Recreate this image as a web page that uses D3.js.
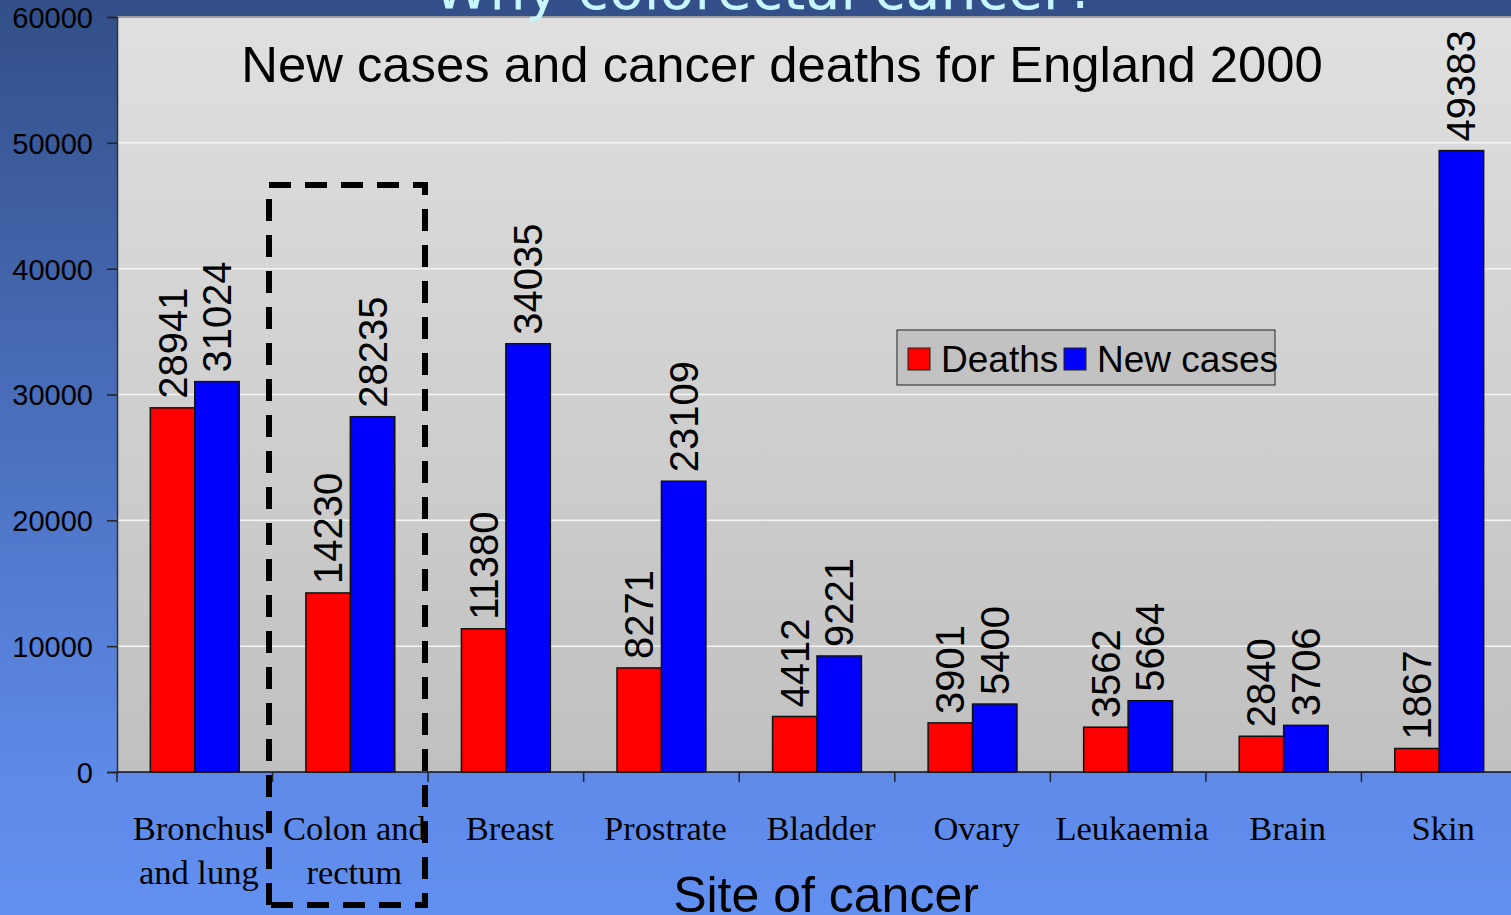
<!DOCTYPE html>
<html>
<head>
<meta charset="utf-8">
<script src="https://cdn.jsdelivr.net/npm/d3@7"></script>
<style>
  html, body { margin: 0; padding: 0; overflow: hidden; }
  svg { display: block; }
</style>
</head>
<body>
<div id="chart"></div>
<script>
// data
var sites = [["Bronchus", "and lung"], ["Colon and", "rectum"], ["Breast"], ["Prostrate"], ["Bladder"], ["Ovary"], ["Leukaemia"], ["Brain"], ["Skin"]];
var deaths = [28941, 14230, 11380, 8271, 4412, 3901, 3562, 2840, 1867];
var newCases = [31024, 28235, 34035, 23109, 9221, 5400, 5664, 3706, 49383];
var yTicks = [0, 10000, 20000, 30000, 40000, 50000, 60000];
var seriesNames = ["Deaths", "New cases"];
var seriesColors = ["#ff0000", "#0000ff"];

var width = 1511;
var height = 915;
var plot = { left: 117, top: 17, right: 1517, bottom: 772 };

var svg = d3.select("#chart").append("svg")
  .attr("width", width)
  .attr("height", height);

var defs = svg.append("defs");
var bg = defs.append("linearGradient").attr("id", "bg").attr("x1", 0).attr("y1", 0).attr("x2", 0).attr("y2", 1);
bg.append("stop").attr("offset", "0%").attr("stop-color", "#334f88");
bg.append("stop").attr("offset", "85%").attr("stop-color", "#5e8ae8");
bg.append("stop").attr("offset", "100%").attr("stop-color", "#6290f0");
var pg = defs.append("linearGradient").attr("id", "pg").attr("x1", 0).attr("y1", 0).attr("x2", 0).attr("y2", 1);
pg.append("stop").attr("offset", "0%").attr("stop-color", "#e0e0e0");
pg.append("stop").attr("offset", "100%").attr("stop-color", "#c0c0c0");

svg.append("rect").attr("width", width).attr("height", height).attr("fill", "url(#bg)");

// scales
var x = d3.scaleBand().domain(d3.range(sites.length)).range([plot.left, plot.right]).paddingInner(0).paddingOuter(0);
var inner = d3.scaleBand().domain([0, 1]).range([0, x.bandwidth()]).paddingOuter(0.75).paddingInner(0);
var y = d3.scaleLinear().domain([0, 60000]).range([plot.bottom, plot.top]);

// plot area
svg.append("rect")
  .attr("x", plot.left).attr("y", plot.top)
  .attr("width", plot.right - plot.left).attr("height", plot.bottom - plot.top)
  .attr("fill", "url(#pg)");

// gridlines
svg.append("g").selectAll("line")
  .data(yTicks.filter(d => d > 0))
  .join("line")
  .attr("x1", plot.left).attr("x2", plot.right)
  .attr("y1", d => y(d)).attr("y2", d => y(d))
  .attr("stroke", "#f4f4f4").attr("stroke-width", 1.5);

// top border of plot
svg.append("line")
  .attr("x1", plot.left).attr("x2", plot.right)
  .attr("y1", plot.top).attr("y2", plot.top)
  .attr("stroke", "#888").attr("stroke-width", 1.5);

// y axis
var yAxis = svg.append("g")
  .attr("transform", "translate(" + plot.left + ",0)")
  .call(d3.axisLeft(y).tickValues(yTicks).tickSize(10).tickPadding(14).tickFormat(d3.format("d")));
yAxis.select(".domain").attr("stroke", "#333").attr("stroke-width", 1.5);
yAxis.selectAll(".tick line").attr("stroke", "#222").attr("stroke-width", 1.5);
yAxis.selectAll("text")
  .attr("font-family", "Liberation Sans, Arial, sans-serif")
  .attr("font-size", 29)
  .attr("fill", "#000")
  .attr("dy", "0.36em");

// x axis
var xAxis = svg.append("g")
  .attr("transform", "translate(0," + plot.bottom + ")");
xAxis.append("line")
  .attr("x1", plot.left).attr("x2", plot.right)
  .attr("stroke", "#111").attr("stroke-width", 1.5);
xAxis.selectAll(".xtick")
  .data(d3.range(sites.length + 1))
  .join("line")
  .attr("class", "xtick")
  .attr("x1", d => plot.left + d * x.step()).attr("x2", d => plot.left + d * x.step())
  .attr("y1", 0).attr("y2", 10)
  .attr("stroke", "#222").attr("stroke-width", 1.5);

// bars
var groups = svg.append("g").selectAll("g")
  .data(sites.map((s, i) => ({ i: i, vals: [deaths[i], newCases[i]] })))
  .join("g")
  .attr("transform", d => "translate(" + x(d.i) + ",0)");

groups.selectAll("rect")
  .data(d => d.vals.map((v, k) => ({ k: k, v: v })))
  .join("rect")
  .attr("x", d => inner(d.k))
  .attr("width", inner.bandwidth())
  .attr("y", d => y(d.v))
  .attr("height", d => y(0) - y(d.v))
  .attr("fill", d => seriesColors[d.k])
  .attr("stroke", "#111")
  .attr("stroke-width", 1.5);

groups.selectAll("text")
  .data(d => d.vals.map((v, k) => ({ k: k, v: v })))
  .join("text")
  .attr("transform", d => "translate(" + (inner(d.k) + inner.bandwidth() / 2 + 14) + "," + (y(d.v) - 9) + ") rotate(-90)")
  .attr("font-family", "Liberation Sans, Arial, sans-serif")
  .attr("font-size", 40)
  .attr("fill", "#000")
  .text(d => d.v);

// category labels
var catLabels = svg.append("g").selectAll("text")
  .data(sites)
  .join("text")
  .attr("x", (d, i) => x(i) + x.bandwidth() / 2 + 4)
  .attr("y", 840)
  .attr("text-anchor", "middle")
  .attr("font-family", "Liberation Serif, Times New Roman, serif")
  .attr("font-size", 34.5)
  .attr("fill", "#000");
catLabels.selectAll("tspan")
  .data(d => d)
  .join("tspan")
  .attr("x", function () { return d3.select(this.parentNode).attr("x"); })
  .attr("dy", (d, i) => i === 0 ? 0 : 44)
  .text(d => d);

// axis title
svg.append("text")
  .attr("x", 826).attr("y", 912)
  .attr("text-anchor", "middle")
  .attr("font-family", "Liberation Sans, Arial, sans-serif")
  .attr("font-size", 50)
  .attr("fill", "#000")
  .text("Site of cancer");

// chart title
svg.append("text")
  .attr("x", 782).attr("y", 82)
  .attr("text-anchor", "middle")
  .attr("font-family", "Liberation Sans, Arial, sans-serif")
  .attr("font-size", 50.8)
  .attr("fill", "#000")
  .text("New cases and cancer deaths for England 2000");

// slide title, cut off by the top edge
svg.append("text")
  .attr("x", 765).attr("y", 9)
  .attr("text-anchor", "middle")
  .attr("font-family", "DejaVu Sans, Verdana, sans-serif")
  .attr("font-size", 57)
  .attr("fill", "#c8f6ff")
  .text("Why colorectal cancer?");

// legend
var legend = svg.append("g").attr("transform", "translate(897,330)");
legend.append("rect")
  .attr("width", 378).attr("height", 55)
  .attr("fill", "#c2c2c2").attr("stroke", "#222").attr("stroke-width", 1);
var legendX = [11, 167];
var items = legend.selectAll(".item")
  .data(seriesNames)
  .join("g")
  .attr("class", "item")
  .attr("transform", (d, i) => "translate(" + legendX[i] + ",0)");
items.append("rect")
  .attr("y", 18).attr("width", 22).attr("height", 22)
  .attr("fill", (d, i) => seriesColors[i])
  .attr("stroke", "#222").attr("stroke-width", 1);
items.append("text")
  .attr("x", 33).attr("y", 42)
  .attr("font-family", "Liberation Sans, Arial, sans-serif")
  .attr("font-size", 37)
  .attr("fill", "#000")
  .text(d => d);

// dashed box around colon and rectum
svg.append("path")
  .attr("d", "M269,905 L269,185 L425,185 L425,905 Z")
  .attr("fill", "none")
  .attr("stroke", "#000")
  .attr("stroke-width", 6)
  .attr("stroke-dasharray", "22,14");
</script>
</body>
</html>
